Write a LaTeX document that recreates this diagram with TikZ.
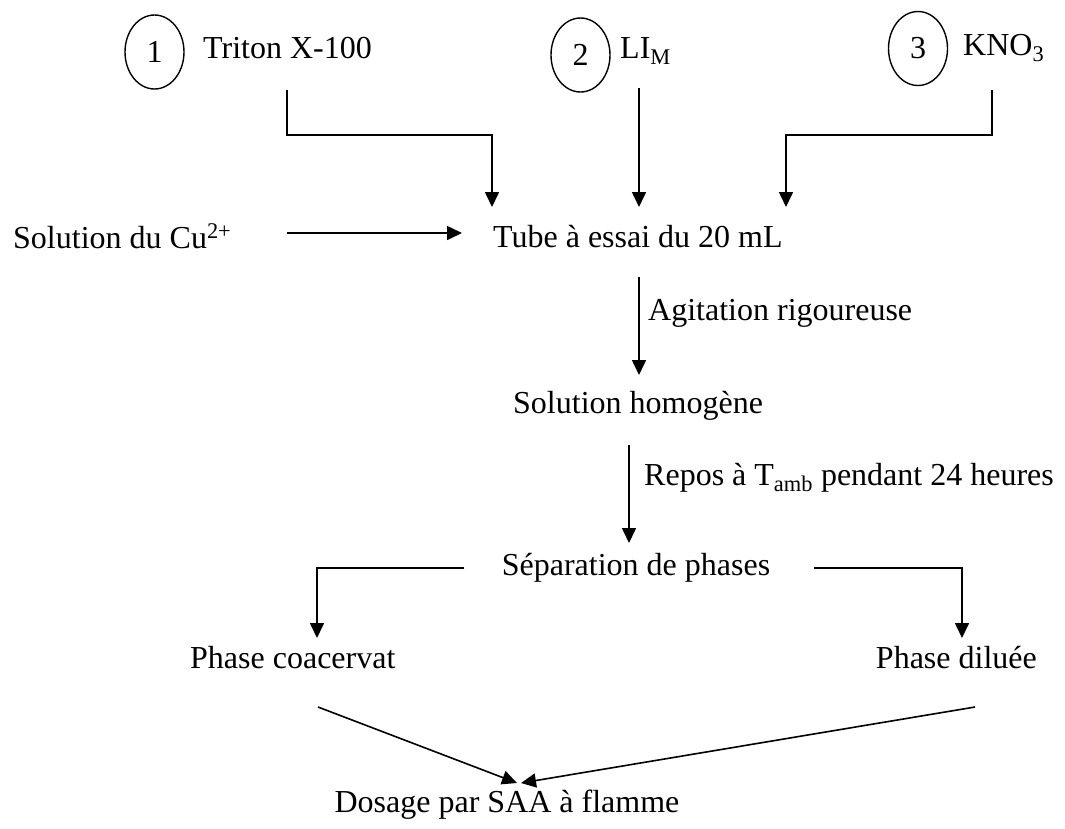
\documentclass[tikz,border=0pt]{standalone}
\usepackage{fontspec}
\setmainfont{Liberation Serif}
\usetikzlibrary{arrows.meta,shapes.geometric}
\begin{document}
\begin{tikzpicture}[x=1pt,y=-1pt,
  every node/.style={inner sep=0pt, font=\fontsize{32}{38}\selectfont},
  lbl/.style={anchor=base west},
  lblc/.style={anchor=base},
  num/.style={draw, ellipse, line width=1.4pt, minimum width=59pt, minimum height=74pt, inner sep=0pt},
  arr/.style={line width=1.6pt, -{Triangle[length=15pt,width=14pt]}},
  ln/.style={line width=1.6pt},
]
\useasboundingbox (0,0) rectangle (1065,828);
% circled numbers
\node[num] (c1) at (154.5,52) {1};
\node[num] (c2) at (580.5,55) {2};
\node[num] (c3) at (918,48.5) {3};
% reagents
\node[lbl] (triton) at (203,58) {Triton X-100};
\node[lbl] (li) at (620,58) {LI\textsubscript{M}};
\node[lbl] (kno) at (963,55) {KNO\textsubscript{3}};
% main texts
\node[lbl] (cu) at (13,248) {Solution du Cu\textsuperscript{2+}};
\node[lbl] (tube) at (493,247) {Tube à essai du 20 mL};
\node[lbl] (agit) at (648,320) {Agitation rigoureuse};
\node[lbl] (homo) at (513,413) {Solution homogène};
\node[lbl] (repos) at (644,485) {Repos à T\textsubscript{amb} pendant 24 heures};
\node[lblc] (sep) at (636,575) {Séparation de phases};
\node[lbl] (coac) at (190,668) {Phase coacervat};
\node[anchor=base east] (dil) at (1037,668) {Phase diluée};
\node[lblc] (dos) at (507,812) {Dosage par SAA à flamme};
% connector end points
\coordinate (t0) at (287,90);
\coordinate (t1) at (287,135);
\coordinate (t2) at (492,135);
\coordinate (t3) at (492,207);
\coordinate (l0) at (639,88);
\coordinate (l1) at (639,207);
\coordinate (k0) at (992,90);
\coordinate (k1) at (992,135);
\coordinate (k2) at (786,135);
\coordinate (k3) at (786,207);
\coordinate (s0) at (287,233);
\coordinate (s1) at (462,233);
\coordinate (a0) at (639,277);
\coordinate (a1) at (639,375);
\coordinate (r0) at (629,445);
\coordinate (r1) at (629,543);
\coordinate (pl0) at (464,568);
\coordinate (pl1) at (317,568);
\coordinate (pl2) at (317,638);
\coordinate (pr0) at (814,568);
\coordinate (pr1) at (962,568);
\coordinate (pr2) at (962,638);
\coordinate (bl0) at (318,707);
\coordinate (bl1) at (517,783);
\coordinate (br0) at (975,707);
\coordinate (br1) at (521,783);
% connectors
\draw[arr] (t0) -- (t1) -- (t2) -- (t3);
\draw[arr] (l0) -- (l1);
\draw[arr] (k0) -- (k1) -- (k2) -- (k3);
\draw[arr] (s0) -- (s1);
\draw[arr] (a0) -- (a1);
\draw[arr] (r0) -- (r1);
\draw[arr] (pl0) -- (pl1) -- (pl2);
\draw[arr] (pr0) -- (pr1) -- (pr2);
\draw[arr] (bl0) -- (bl1);
\draw[arr] (br0) -- (br1);
\end{tikzpicture}
\end{document}
